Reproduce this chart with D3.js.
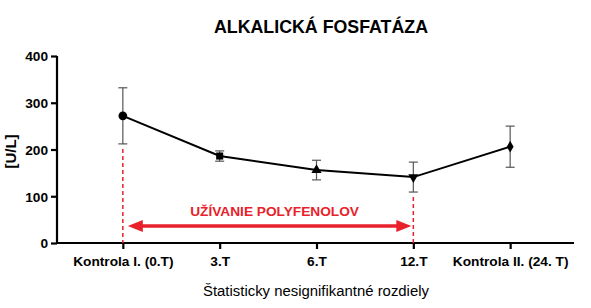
<!DOCTYPE html>
<html><head><meta charset="utf-8">
<script src="https://cdn.jsdelivr.net/npm/d3@7/dist/d3.min.js"></script>
<style>body{margin:0;background:#fff}svg{display:block;font-family:"Liberation Sans",Arial,sans-serif}</style>
</head><body><svg id="c" width="591" height="308"></svg>
<script>
const categories = ["Kontrola I. (0.T)", "3.T", "6.T", "12.T", "Kontrola II. (24. T)"];
const means = [272, 186, 156, 141, 206];
const errors = [60, 11, 21, 32, 44];
const markers = ["circle", "square", "triangle", "triangleDown", "diamond"];
const yTicks = [0, 100, 200, 300, 400];
const title = "ALKALICKÁ FOSFATÁZA";
const yLabel = "[U/L]";
const xLabel = "Štatisticky nesignifikantné rozdiely";
const periodLabel = "UŽÍVANIE POLYFENOLOV";
const periodStart = "Kontrola I. (0.T)", periodEnd = "12.T";

const svg = d3.select("#c");
const L = 57, R = 576, T = 56, B = 243;
const x = d3.scalePoint().domain(categories).range([L, R]).padding(0.68);
const y = d3.scaleLinear().domain([0, 400]).range([B, T]);

svg.append("text").attr("x", 321).attr("y", 33).attr("text-anchor", "middle")
  .attr("font-size", 17.8).attr("font-weight", "bold").text(title);

const ya = svg.append("g").attr("transform", `translate(${L},0)`)
  .call(d3.axisLeft(y).tickValues(yTicks).tickSize(6).tickPadding(3));
const xa = svg.append("g").attr("transform", `translate(0,${B})`)
  .call(d3.axisBottom(x).tickSize(6).tickPadding(7).tickSizeOuter(0));
[ya, xa].forEach(a => {
  a.select(".domain").attr("stroke", "#000").attr("stroke-width", 2.2);
  a.selectAll(".tick line").attr("stroke", "#000").attr("stroke-width", 2.2);
  a.selectAll(".tick text").attr("fill", "#000").attr("font-size", 13.7).attr("font-weight", "bold")
    .attr("font-family", "Liberation Sans, Arial, sans-serif");
});
ya.selectAll(".tick text").attr("dy", "0.36em");
ya.select(".domain").attr("d", `M0,${B}V${T}`);
xa.select(".domain").attr("d", `M${L},0H${R - 2}`);

svg.append("text").attr("transform", `translate(16,${(T+B)/2+2}) rotate(-90)`).attr("text-anchor", "middle")
  .attr("font-size", 15).attr("font-weight", "bold").text(yLabel);
svg.append("text").attr("x", 316).attr("y", 296).attr("text-anchor", "middle")
  .attr("font-size", 14.9).text(xLabel);

// red dashed lines
[periodStart, periodEnd].forEach((c, i) => {
  const idx = categories.indexOf(c);
  svg.append("line").attr("x1", x(c)).attr("x2", x(c))
    .attr("y1", y(means[idx] - errors[idx]) + 5).attr("y2", B)
    .attr("stroke", "#e8212b").attr("stroke-width", 1.5).attr("stroke-dasharray", "4,3");
});
const ay = 226, x0 = x(periodStart) + 5, x1 = x(periodEnd) - 2;
svg.append("line").attr("x1", x0 + 12).attr("x2", x1 - 12).attr("y1", ay).attr("y2", ay)
  .attr("stroke", "#e8212b").attr("stroke-width", 3.5);
svg.append("path").attr("d", `M${x0},${ay}L${x0+15},${ay-6}L${x0+15},${ay+6}Z`).attr("fill", "#e8212b");
svg.append("path").attr("d", `M${x1},${ay}L${x1-15},${ay-6}L${x1-15},${ay+6}Z`).attr("fill", "#e8212b");
svg.append("text").attr("x", (x0 + x1) / 2 + 5).attr("y", 216).attr("text-anchor", "middle")
  .attr("fill", "#e8212b").attr("font-size", 13.7).attr("font-weight", "bold").text(periodLabel);

// error bars
const eb = svg.append("g").attr("stroke", "#555").attr("stroke-width", 1.2);
categories.forEach((c, i) => {
  const cx = x(c), t = y(means[i] + errors[i]), b = y(means[i] - errors[i]);
  eb.append("line").attr("x1", cx).attr("x2", cx).attr("y1", t).attr("y2", b);
  eb.append("line").attr("x1", cx - 4.5).attr("x2", cx + 4.5).attr("y1", t).attr("y2", t);
  eb.append("line").attr("x1", cx - 4.5).attr("x2", cx + 4.5).attr("y1", b).attr("y2", b);
});

// line
svg.append("path").datum(means.map((m, i) => [x(categories[i]), y(m)]))
  .attr("d", d3.line()).attr("fill", "none")
  .attr("stroke", "#000").attr("stroke-width", 2);

const sym = {circle: d3.symbolCircle, square: d3.symbolSquare, triangle: d3.symbolTriangle,
  triangleDown: d3.symbolTriangle, diamond: d3.symbolDiamond};
const sizes = {circle: 60, square: 50, triangle: 45, triangleDown: 45, diamond: 40};
categories.forEach((c, i) => {
  const m = markers[i];
  svg.append("path").attr("d", d3.symbol().type(sym[m]).size(sizes[m])())
    .attr("transform", `translate(${x(c)},${y(means[i])})${m === "triangleDown" ? " rotate(180)" : ""}`)
    .attr("fill", "#000");
});
</script></body></html>
